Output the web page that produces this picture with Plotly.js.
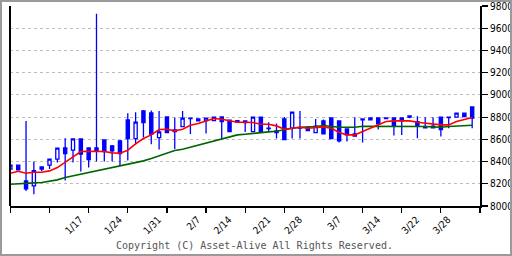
<!DOCTYPE html>
<html><head><meta charset="utf-8">
<script src="https://cdn.plot.ly/plotly-3.0.1.min.js"></script>
<style>
html,body{margin:0;padding:0;background:#fff;}
#wrap{position:relative;width:512px;height:256px;}
#chart{width:512px;height:256px;}
#frame{position:absolute;left:0;top:0;width:512px;height:256px;box-sizing:border-box;border:2px solid #9a9a9a;pointer-events:none;}
</style></head>
<body><div id="wrap"><div id="chart"></div><div id="frame"></div></div>
<script>
// trading days (2022)
const dates = ['1/4','1/5','1/6','1/7','1/11','1/12','1/13','1/14','1/17','1/18',
'1/19','1/20','1/21','1/24','1/25','1/26','1/27','1/28','1/31','2/1',
'2/2','2/3','2/4','2/7','2/8','2/9','2/10','2/14','2/15','2/16',
'2/17','2/18','2/21','2/22','2/24','2/25','2/28','3/1','3/2','3/3',
'3/4','3/7','3/8','3/9','3/10','3/11','3/14','3/15','3/16','3/17',
'3/18','3/22','3/23','3/24','3/25','3/28','3/29','3/30','3/31','4/1'];
const labelDates = ['1/17','1/24','1/31','2/7','2/14','2/21','2/28','3/7','3/14','3/22','3/28'];
const yTicks = [8000,8200,8400,8600,8800,9000,9200,9400,9600,9800];

const openV  = [8331,8367,8226,8181,8331,8367,8421,8523,8502,8604,
8523,8523,8595,8541,8586,8775,8607,8856,8838,8616,
8802,8685,8715,8787,8784,8769,8769,8802,8772,8769,
8766,8670,8799,8697,8676,8784,8700,8703,8709,8661,
8766,8793,8766,8694,8649,8775,8793,8793,8793,8793,
8793,8811,8760,8715,8718,8799,8796,8799,8835,8892];
const highV  = [8367,8370,8766,8400,8352,8421,8520,8610,8604,8604,
8523,9730,8595,8550,8595,8835,8844,8865,8859,8856,
8802,8796,8856,8793,8784,8790,8799,8802,8772,8769,
8766,8799,8799,8754,8742,8802,8844,8856,8709,8784,
8778,8793,8766,8694,8799,8784,8799,8793,8793,8793,
8793,8811,8808,8799,8799,8799,8799,8835,8835,8892];
const lowV   = [8331,8322,8136,8106,8316,8334,8391,8229,8391,8310,
8346,8400,8400,8400,8358,8409,8556,8616,8556,8508,
8661,8514,8715,8649,8766,8652,8769,8601,8670,8754,
8667,8670,8667,8667,8607,8598,8607,8607,8679,8661,
8649,8607,8571,8580,8628,8571,8769,8688,8787,8634,
8640,8790,8610,8703,8703,8625,8700,8799,8805,8700];
const closeV = [8367,8325,8154,8319,8352,8421,8520,8472,8604,8466,
8418,8499,8490,8496,8472,8607,8754,8751,8646,8667,
8661,8670,8790,8790,8766,8790,8799,8760,8670,8754,
8751,8799,8667,8700,8661,8598,8844,8700,8679,8718,
8649,8607,8586,8640,8628,8784,8775,8739,8787,8718,
8766,8799,8724,8703,8703,8688,8799,8835,8805,8790];
const maShort = [8295,8313,8295,8304,8304,8316,8346,8394,8445,8490,
8493,8493,8490,8478,8475,8502,8559,8607,8640,8688,
8691,8676,8691,8727,8742,8766,8787,8781,8769,8754,
8754,8751,8736,8736,8721,8691,8700,8709,8700,8709,
8712,8700,8661,8640,8640,8670,8700,8736,8760,8766,
8766,8766,8754,8745,8742,8730,8730,8760,8778,8796];
const maLong = [8196,8202,8205,8208,8211,8220,8235,8256,8271,8286,
8301,8313,8325,8340,8355,8370,8388,8406,8427,8451,
8475,8499,8511,8529,8544,8565,8583,8604,8619,8640,
8646,8655,8664,8667,8673,8688,8700,8709,8709,8715,
8724,8715,8709,8709,8709,8718,8718,8718,8718,8718,
8721,8721,8721,8715,8712,8709,8715,8718,8721,8727];

const xs = dates.map((d,i)=>i);
const tickIdx = labelDates.map(d=>dates.indexOf(d));

const blue = '#0000ff';
const traces = [
  {type:'candlestick', x:xs, open:openV, high:highV, low:lowV, close:closeV,
   increasing:{line:{color:blue,width:1.3}, fillcolor:'#ffffff'},
   decreasing:{line:{color:blue,width:1.3}, fillcolor:blue},
   whiskerwidth:0, hoverinfo:'skip', showlegend:false},
  {type:'scatter', mode:'lines', x:xs, y:maLong, line:{color:'#006400',width:1.6}, showlegend:false, hoverinfo:'skip'},
  {type:'scatter', mode:'lines', x:xs, y:maShort, line:{color:'#ff0000',width:1.6}, showlegend:false, hoverinfo:'skip'}
];

const tickFont = {family:'"Liberation Sans Narrow","DejaVu Sans Condensed",sans-serif', size:10, color:'#000'};
const xr = [-0.05, 60];
const yr = [8000, 9800];
const layout = {
  width:512, height:256,
  margin:{l:10, r:32, t:6, b:50, pad:0},
  paper_bgcolor:'#fff', plot_bgcolor:'#fff',
  showlegend:false, boxgap:0.42,
  xaxis:{range:xr, fixedrange:true, rangeslider:{visible:false},
    tickmode:'array', tickvals:tickIdx, ticktext:labelDates, tickangle:-45,
    ticks:'', tickfont:tickFont, showgrid:false, zeroline:false,
    showline:true, linecolor:'#000', linewidth:2,
    ticklabelshift:7, ticklabelstandoff:2,
    minor:{tickmode:'linear', tick0:0, dtick:5, ticks:'outside', ticklen:5, tickcolor:'#000', tickwidth:1.2, showgrid:false}},
  xaxis2:{range:xr, overlaying:'x', anchor:'y', side:'bottom', tickmode:'linear', tick0:0, dtick:5,
    ticks:'inside', ticklen:4, tickcolor:'#000', tickwidth:1.2, showticklabels:false, showgrid:false, zeroline:false, showline:false},
  yaxis:{range:yr, side:'right', tickmode:'array', tickvals:yTicks, ticktext:yTicks.map(String),
    ticks:'outside', ticklen:6, tickcolor:'#000', tickwidth:1.2, tickfont:tickFont,
    showgrid:true, gridcolor:'#bdbdbd', griddash:'3px,3px', gridwidth:1,
    zeroline:false, showline:true, linecolor:'#000', linewidth:2, fixedrange:true},
  yaxis2:{range:yr, overlaying:'y', anchor:'x', side:'right', tickmode:'array', tickvals:yTicks,
    ticks:'inside', ticklen:5, tickcolor:'#000', tickwidth:1.2, showticklabels:false, showgrid:false, zeroline:false, showline:false},
  shapes:[{type:'line', xref:'paper', yref:'paper', x0:0, x1:0, y0:0, y1:1, line:{color:'#000', width:2}}],
  annotations:[{xref:'paper', yref:'paper', x:0.521, y:-0.195, xanchor:'center', yanchor:'middle', showarrow:false,
    text:'Copyright (C) Asset-Alive All Rights Reserved.', font:{family:'"DejaVu Sans Mono",monospace', size:10, color:'#555'}}]
};
Plotly.newPlot('chart', traces, layout, {staticPlot:true, displayModeBar:false});
</script></body></html>
